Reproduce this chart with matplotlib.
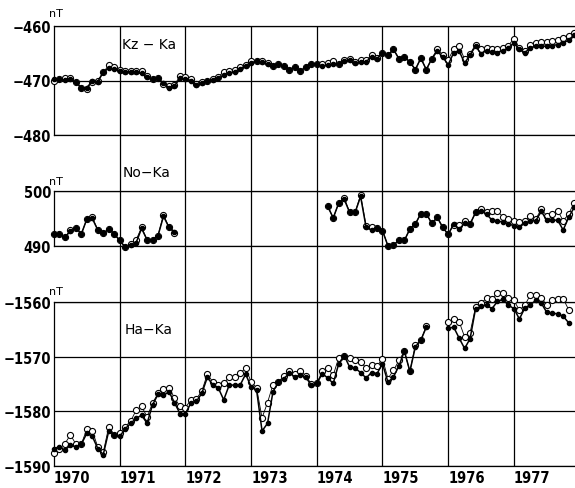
import numpy as np
import matplotlib
matplotlib.use("Agg")
import matplotlib.pyplot as plt

# monthly values, first month = Jan 1970
years = [1970, 1971, 1972, 1973, 1974, 1975, 1976, 1977]

# Kz - Ka (filled = kz_f, open = kz_o), Jan 1970 .. Dec 1977
kz_f = [-469.8, -469.8, -469.9, -469.8, -470.3, -471.4, -471.3, -470.1, -470.2, -468.5, -467.7, -467.9,
        -468.2, -468.4, -468.4, -468.5, -468.7, -469.4, -469.8, -469.6, -470.5, -471.3, -471.0, -469.6,
        -469.7, -470.0, -470.8, -470.4, -470.1, -469.9, -469.6, -469.0, -468.6, -468.4, -467.8, -467.3,
        -466.7, -466.5, -466.6, -467.0, -467.4, -467.0, -467.4, -468.0, -467.5, -468.3, -467.5, -466.9,
        -467.0, -467.3, -467.2, -466.9, -467.0, -466.5, -466.2, -466.8, -466.6, -466.6, -465.6, -466.0,
        -464.9, -465.4, -464.3, -466.0, -465.7, -466.6, -468.0, -465.9, -468.0, -466.0, -464.6, -465.7,
        -467.1, -464.9, -464.6, -466.8, -465.3, -463.7, -465.1, -464.5, -464.8, -464.9, -464.5, -464.0,
        -463.1, -464.3, -464.9, -464.0, -463.7, -463.7, -463.7, -463.6, -463.4, -463.1, -462.6, -461.6]
kz_o = [-470.1, -469.7, -469.6, -469.6, -470.2, -471.3, -471.5, -470.2, -470.0, -468.5, -467.2, -467.6,
        -468.1, -468.2, -468.2, -468.2, -468.3, -469.2, -469.8, -469.6, -470.6, -471.0, -470.8, -469.2,
        -469.3, -469.8, -470.6, -470.3, -470.0, -469.8, -469.3, -468.4, -468.3, -468.0, -467.6, -467.2,
        -466.5, -466.4, -466.5, -466.8, -467.3, -467.0, -467.4, -468.0, -467.5, -468.2, -467.5, -466.9,
        -466.9, -467.0, -466.8, -466.5, -466.9, -466.3, -466.0, -466.6, -466.2, -466.3, -465.3, -465.8,
        -464.9, -465.3, -464.2, -466.0, -465.6, -466.6, -468.0, -465.9, -468.0, -466.0, -464.2, -465.3,
        -466.2, -464.2, -463.7, -466.1, -465.1, -463.4, -464.3, -464.1, -464.3, -464.3, -464.1, -463.6,
        -462.3, -464.0, -464.6, -463.4, -463.2, -463.0, -462.9, -462.8, -462.5, -462.2, -461.9, -461.3]

# No - Ka: Jan 1970 .. Nov 1971, then Mar 1974 .. Dec 1977
no_f1 = [492.2, 492.1, 491.6, 492.7, 493.3, 492.2, 494.9, 495.0, 492.9, 492.3, 493.1, 492.2,
         491.0, 489.8, 490.1, 490.6, 493.2, 491.1, 491.1, 491.9, 495.4, 493.4, 492.6]
no_o1 = [492.2, 492.1, 491.6, 492.9, 493.3, 492.2, 494.9, 495.2, 492.9, 492.3, 493.1, 492.2,
         491.0, 489.8, 490.4, 491.1, 493.4, 491.1, 491.1, 491.9, 495.7, 493.4, 492.3]
no_f2 = [497.2, 495.1, 497.8, 498.5, 496.1, 496.1, 499.0, 493.4, 492.9, 493.3, 492.8, 490.0,
         490.2, 491.0, 491.0, 493.1, 494.0, 495.9, 495.9, 494.1, 495.2, 493.4, 492.1, 494.0,
         493.1, 494.1, 494.0, 496.1, 496.4, 495.8, 494.7, 494.6, 494.3, 494.0, 493.7, 493.5,
         494.1, 494.6, 494.6, 496.3, 494.7, 494.7, 494.7, 492.9, 495.2, 497.0]
no_o2 = [497.2, 495.1, 497.8, 498.8, 496.1, 496.1, 499.3, 493.7, 493.4, 493.3, 492.8, 490.0,
         490.2, 491.0, 491.0, 493.1, 494.0, 495.9, 495.9, 494.1, 495.2, 493.4, 492.1, 493.9,
         493.9, 494.5, 494.0, 496.1, 496.7, 496.1, 496.3, 496.3, 495.3, 494.9, 494.6, 494.3,
         494.6, 495.5, 494.9, 496.7, 495.5, 495.9, 496.4, 494.6, 495.8, 497.9]

# Ha - Ka: Jan 1970 .. Sep 1975, then Jan 1976 .. Nov 1977
ha_f1 = [-1586.8, -1586.5, -1587.1, -1586.2, -1586.5, -1586.0, -1584.0, -1584.6, -1586.8, -1587.9, -1583.6, -1584.3,
         -1584.6, -1583.2, -1582.2, -1581.3, -1580.7, -1582.2, -1578.8, -1576.9, -1577.1, -1576.4, -1578.4, -1580.4,
         -1580.4, -1578.5, -1578.2, -1576.7, -1573.8, -1575.1, -1575.7, -1577.9, -1575.2, -1575.2, -1575.2, -1573.2,
         -1575.5, -1576.1, -1583.6, -1582.2, -1576.4, -1574.6, -1574.0, -1573.0, -1573.7, -1573.4, -1573.8, -1575.2,
         -1574.9, -1573.1, -1573.9, -1574.9, -1571.3, -1569.8, -1571.9, -1572.1, -1572.9, -1573.9, -1572.9, -1573.1,
         -1571.3, -1574.7, -1573.7, -1571.7, -1569.0, -1572.7, -1568.2, -1567.0, -1564.6]
ha_o1 = [-1587.7, -1586.8, -1585.9, -1584.3, -1586.0, -1586.0, -1583.2, -1583.6, -1586.5, -1587.5, -1582.8, -1584.3,
         -1584.0, -1582.8, -1581.8, -1579.8, -1579.1, -1581.0, -1578.5, -1576.7, -1575.9, -1575.7, -1577.5, -1579.1,
         -1579.3, -1577.9, -1577.7, -1576.3, -1573.2, -1574.6, -1575.1, -1574.9, -1573.7, -1573.8, -1573.0, -1572.1,
         -1574.6, -1575.7, -1581.2, -1578.4, -1575.1, -1574.6, -1573.5, -1572.7, -1573.2, -1572.6, -1573.5, -1575.0,
         -1574.9, -1572.7, -1572.1, -1573.4, -1570.2, -1569.9, -1570.3, -1570.7, -1570.9, -1572.1, -1571.5, -1571.7,
         -1570.4, -1574.0, -1572.5, -1570.7, -1569.0, -1572.7, -1567.9, -1567.0, -1564.4]
ha_f2 = [-1564.8, -1564.6, -1566.6, -1568.5, -1566.7, -1561.2, -1560.8, -1560.6, -1561.2, -1559.9, -1559.5, -1560.6,
         -1561.2, -1563.1, -1561.1, -1560.5, -1559.7, -1560.2, -1561.9, -1562.0, -1562.2, -1562.6, -1563.8]
ha_o2 = [-1563.6, -1563.2, -1563.6, -1566.4, -1565.6, -1560.9, -1560.2, -1559.3, -1559.5, -1558.3, -1558.3, -1559.3,
         -1559.7, -1561.5, -1560.6, -1558.7, -1558.7, -1559.3, -1560.5, -1559.7, -1559.4, -1559.4, -1561.4]


def months(start, n):
    return 1970 + (start + np.arange(n)) / 12.0


W, H = 575, 489
fig = plt.figure(figsize=(W / 100, H / 100), dpi=100)

x0 = 54 / W
xlim = (1970, 1977.93)
numfont = dict(family='DejaVu Sans', fontstretch='condensed', fontweight='bold', fontsize=10.5)


def fy(py):
    return 1 - py / H


# background axes for the year lines that run through all panels
bg = fig.add_axes([x0, fy(467), 1 - x0, fy(27) - fy(467)])
bg.set_xlim(*xlim)
bg.axis('off')
for yr in years[1:]:
    bg.axvline(yr, color='black', lw=0.9)


def panel(top, bottom, ylim, yticks, series):
    ax = fig.add_axes([x0, fy(bottom), 1 - x0, fy(top) - fy(bottom)])
    ax.patch.set_alpha(0)
    ax.set_xlim(*xlim)
    ax.set_ylim(*ylim)
    ax.spines['right'].set_visible(False)
    for s in ['left', 'top', 'bottom']:
        ax.spines[s].set_linewidth(0.9)
    ax.set_yticks(yticks)
    ax.set_yticklabels([str(v).replace('-', '\u2212') for v in yticks], **numfont)
    ax.tick_params(axis='y', length=0, pad=2)
    ax.tick_params(axis='x', length=0)
    ax.set_xticks([])
    for v in yticks:
        ax.axhline(v, color='black', lw=0.9)
    for t, yo, yf in series:
        ax.plot(t, yo, '-', color='black', lw=0.6, marker='o', ms=4.4,
                mfc='white', mec='black', mew=0.8, clip_on=False, zorder=3)
        ax.plot(t, yf, '-', color='black', lw=1.1, marker='o', ms=3.0,
                mfc='black', mec='black', clip_on=False, zorder=4)
    return ax


ax1 = panel(27, 136, (-480, -460), [-460, -470, -480],
            [(months(0, len(kz_f)), kz_o, kz_f)])
ax2 = panel(192, 247, (490, 500), [500, 490],
            [(months(0, len(no_f1)), no_o1, no_f1),
             (months(50, len(no_f2)), no_o2, no_f2)])
ax3 = panel(303, 467, (-1590, -1560), [-1560, -1570, -1580, -1590],
            [(months(0, len(ha_f1)), ha_o1, ha_f1),
             (months(72, len(ha_f2)), ha_o2, ha_f2)])

ax3.set_xticks(years)
ax3.set_xticklabels([str(y) for y in years], ha='left', **numfont)
ax3.tick_params(axis='x', length=0, pad=3)

# panel labels and units
fig.text(122 / W, fy(45), 'Kz \u2212 Ka', fontsize=10, va='center', ha='left')
fig.text(123 / W, fy(173), 'No\u2212Ka', fontsize=10, va='center', ha='left')
fig.text(125 / W, fy(330), 'Ha\u2212Ka', fontsize=10, va='center', ha='left')
for py in [14, 182, 292]:
    fig.text(49 / W, fy(py), 'nT', fontsize=8, va='center', ha='left')

fig.savefig('out.png', dpi=100)
